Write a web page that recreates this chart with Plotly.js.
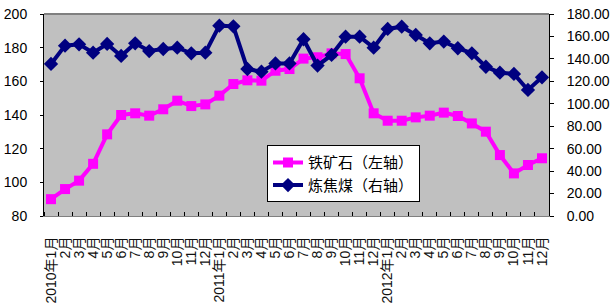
<!DOCTYPE html>
<html>
<head>
<meta charset="utf-8">
<script src="https://cdn.plot.ly/plotly-3.0.1.min.js"></script>
<style>html,body{margin:0;padding:0;background:#fff;}#chart{width:612px;height:308px;}</style>
</head>
<body>
<div id="chart"></div>
<script>
const monthLabels = [
  "2010年1月","2月","3月","4月","5月","6月","7月","8月","9月","10月","11月","12月",
  "2011年1月","2月","3月","4月","5月","6月","7月","8月","9月","10月","11月","12月",
  "2012年1月","2月","3月","4月","5月","6月","7月","8月","9月","10月","11月","12月"
];
const ironOre = [90, 96, 101, 111, 128.5, 140, 141, 139.6, 143.4, 148.5, 145.3, 146.3,
  151.5, 158.4, 160.6, 160.4, 166.3, 167.3, 173.5, 174.3, 176.6, 176.2, 161.8, 141,
  136.6, 136.6, 138.6, 139.6, 141.4, 139.4, 135, 130.1, 116.2, 105.3, 110.3, 114.3];
const cokingCoal = [135.5, 151.8, 153, 145.5, 153.3, 142.6, 153.9, 147, 148.8, 150, 145, 145.5,
  169.6, 169, 131, 128.6, 136, 136, 157.5, 134, 143.5, 159.8, 159.8, 150,
  166.7, 168.7, 161.3, 153.9, 155.4, 149.5, 145, 133, 127.7, 126.6, 112.3, 123.6];
const seriesNames = ["铁矿石（左轴）", "炼焦煤（右轴）"];

const idx = monthLabels.map((_, i) => i);
const bounds = monthLabels.map((_, i) => i - 0.5).concat([monthLabels.length - 0.5]);
const font = "Liberation Sans, Arial, Noto Sans CJK SC, sans-serif";

const traces = [
  {x: idx, y: ironOre, name: seriesNames[0], type: "scatter", mode: "lines+markers",
   line: {color: "#FF00FF", width: 4}, marker: {symbol: "square", size: 10, color: "#FF00FF"},
   yaxis: "y"},
  {x: idx, y: cokingCoal, name: seriesNames[1], type: "scatter", mode: "lines+markers",
   line: {color: "#000080", width: 4}, marker: {symbol: "diamond", size: 11, color: "#000080"},
   yaxis: "y2"}
];

const layout = {
  width: 612, height: 308,
  margin: {l: 44, r: 63, t: 14, b: 92, pad: 0},
  paper_bgcolor: "#FFFFFF",
  plot_bgcolor: "#C0C0C0",
  font: {family: font, size: 14, color: "#000"},
  showlegend: true,
  legend: {x: 0.4416, y: 0.35, xanchor: "left", yanchor: "top",
    bgcolor: "#FFFFFF", bordercolor: "#000", borderwidth: 1,
    font: {family: "Noto Sans CJK SC, sans-serif", size: 15, color: "#000"},
    itemwidth: 30, tracegroupgap: 0},
  xaxis: {range: [-0.5, monthLabels.length - 0.5], tickmode: "array", tickvals: idx, ticktext: monthLabels,
    tickangle: -90, ticks: "", showgrid: false, zeroline: false, showline: true, linecolor: "#808080", linewidth: 1,
    tickfont: {family: font, size: 14, color: "#111"}, ticklabelstandoff: 14,
    minor: {tickmode: "array", tickvals: bounds, ticks: "inside", ticklen: 4, tickcolor: "#000", showgrid: false}},
  yaxis: {range: [80, 200], dtick: 20, tick0: 0, showgrid: false, zeroline: false, showline: true,
    linecolor: "#000", linewidth: 1, ticks: "outside", ticklen: 3, tickcolor: "#000",
    tickfont: {family: font, size: 14}, ticklabelstandoff: 10},
  yaxis2: {range: [0, 180], dtick: 20, tick0: 0, overlaying: "y", side: "right", showgrid: false, zeroline: false,
    showline: true, linecolor: "#000", linewidth: 1, ticks: "outside", ticklen: 4, tickcolor: "#000",
    tickformat: ".2f", tickfont: {family: font, size: 14}, ticklabelstandoff: 10},
  shapes: [{type: "line", xref: "paper", yref: "paper", x0: 0, x1: 1, y0: 1, y1: 1,
    line: {color: "#808080", width: 2}}]
};

Plotly.newPlot("chart", traces, layout, {displayModeBar: false, staticPlot: true});
</script>
</body>
</html>
